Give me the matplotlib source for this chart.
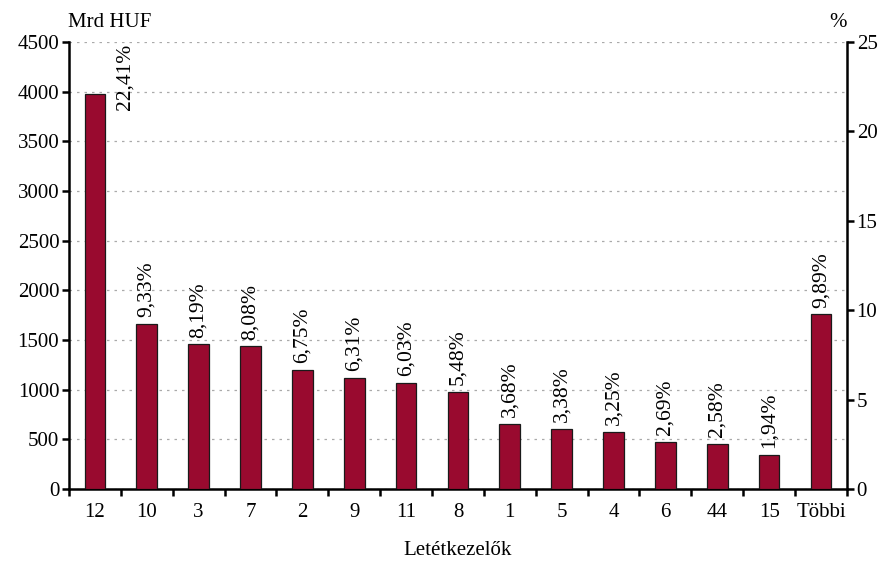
import matplotlib.pyplot as plt

# Letétkezelők szerinti állomány (Mrd HUF) és részesedés (%)
categories = ["12", "10", "3", "7", "2", "9", "11", "8", "1", "5", "4", "6", "44", "15", "Többi"]
values = [3980, 1657, 1455, 1435, 1199, 1121, 1071, 973, 654, 600, 577, 478, 458, 345, 1757]
shares = [22.41, 9.33, 8.19, 8.08, 6.75, 6.31, 6.03, 5.48, 3.68, 3.38, 3.25, 2.69, 2.58, 1.94, 9.89]

left_ticks = list(range(0, 4501, 500))
right_ticks = [0, 5, 10, 15, 20, 25]

plt.rcParams["font.family"] = ["Liberation Serif", "DejaVu Serif"]
plt.rcParams["font.size"] = 15

BAR_COLOR = "#990a2f"


def plot_chart():
    fig = plt.figure(figsize=(8.8, 5.63), dpi=100)
    ax = fig.add_axes([0.0784, 0.1314, 0.884, 0.794])

    x = list(range(len(categories)))
    ax.bar(x, values, width=0.4, color=BAR_COLOR, edgecolor="#1a1a1a", linewidth=0.9, zorder=3)

    ax.set_xlim(-0.5, len(categories) - 0.5)
    ax.set_ylim(0, 4500)
    ax.set_yticks(left_ticks)
    ax.yaxis.grid(True, linestyle=(0, (2, 4)), color="#aaaaaa", linewidth=0.9, zorder=0)

    # x tengely: kategórianevek középen, osztásjelek a kategóriák határán
    ax.set_xticks(x)
    ax.set_xticklabels(categories)
    ax.tick_params(axis="x", which="major", length=0, pad=10)
    ax.set_xticks([i - 0.5 for i in range(len(categories) + 1)], minor=True)
    ax.tick_params(axis="x", which="minor", length=5, width=1.8, direction="out")
    ax.tick_params(axis="y", length=5, width=1.8, direction="out", pad=2)

    for side in ["top", "right"]:
        ax.spines[side].set_visible(False)
    for side in ["left", "bottom"]:
        ax.spines[side].set_linewidth(1.8)

    ax2 = ax.twinx()
    ax2.set_ylim(0, 25)
    ax2.set_yticks(right_ticks)
    ax2.tick_params(axis="y", length=5, width=1.8, direction="out", pad=2)
    for side in ["top", "left", "bottom"]:
        ax2.spines[side].set_visible(False)
    ax2.spines["right"].set_linewidth(1.8)

    # százalékos feliratok a bárok felett
    for i, (v, s) in enumerate(zip(values, shares)):
        label = f"{s:.2f}%".replace(".", ",")
        if v > 3500:
            ax.text(i + 0.58, 4480, label, rotation=90, ha="center", va="top",
                    fontsize=15.5, zorder=4)
        else:
            ax.text(i, v + 70, label, rotation=90, ha="center", va="bottom",
                    fontsize=15.5, zorder=4)

    fig.text(0.077, 0.944, "Mrd HUF", ha="left", va="bottom")
    fig.text(0.952, 0.944, "%", ha="center", va="bottom")
    fig.text(0.52, 0.005, "Letétkezelők", ha="center", va="bottom")

    fig.savefig("out.png", dpi=100)


if __name__ == "__main__":
    plot_chart()
